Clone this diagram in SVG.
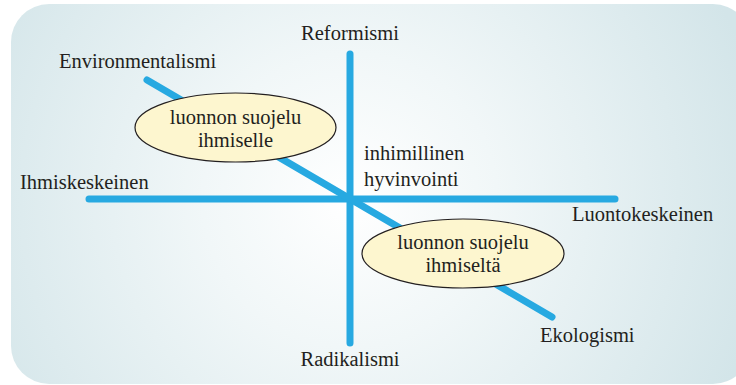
<svg xmlns="http://www.w3.org/2000/svg" width="736" height="385" viewBox="0 0 736 385">
<defs>
<radialGradient id="bg" cx="350" cy="200" r="420" gradientUnits="userSpaceOnUse">
<stop offset="0" stop-color="#ffffff"/>
<stop offset="0.35" stop-color="#f1f7f8"/>
<stop offset="1" stop-color="#d3e5e9"/>
</radialGradient>
<style>
text{font-family:'Liberation Serif','DejaVu Serif','Times New Roman',serif;font-size:20.5px;fill:#231f20}
.m{text-anchor:middle}
.ax{stroke:#27a9e1;stroke-width:7;stroke-linecap:round;fill:none}
.el{fill:#fdf6cf;stroke:#231f20;stroke-width:1.2}
</style>
</defs>
<rect x="11" y="4" width="740" height="380" rx="38" ry="38" fill="url(#bg)"/>
<g id="connectors">
<line class="ax" x1="350" y1="54" x2="350" y2="343"/>
<line class="ax" x1="89" y1="199" x2="615" y2="199"/>
<line class="ax" x1="147" y1="80" x2="552" y2="317"/>
</g>
<g id="reformismi"><text class="m" x="350" y="40">Reformismi</text></g>
<g id="radikalismi"><text class="m" x="350" y="366">Radikalismi</text></g>
<g id="environmentalismi"><text x="59" y="68">Environmentalismi</text></g>
<g id="ekologismi"><text x="540" y="342">Ekologismi</text></g>
<g id="ihmiskeskeinen"><text x="20" y="189">Ihmiskeskeinen</text></g>
<g id="luontokeskeinen"><text x="572" y="221">Luontokeskeinen</text></g>
<g id="inhimillinen"><text x="364" y="160">inhimillinen</text><text x="364" y="186">hyvinvointi</text></g>
<g id="suojelu-ihmiselle">
<ellipse class="el" cx="235.5" cy="127.5" rx="100.5" ry="34.5"/>
<text class="m" x="235.5" y="124">luonnon suojelu</text>
<text class="m" x="235.5" y="147">ihmiselle</text>
</g>
<g id="suojelu-ihmiselta">
<ellipse class="el" cx="463" cy="253.5" rx="101" ry="34.5"/>
<text class="m" x="463" y="249">luonnon suojelu</text>
<text class="m" x="463" y="272">ihmiseltä</text>
</g>
</svg>
